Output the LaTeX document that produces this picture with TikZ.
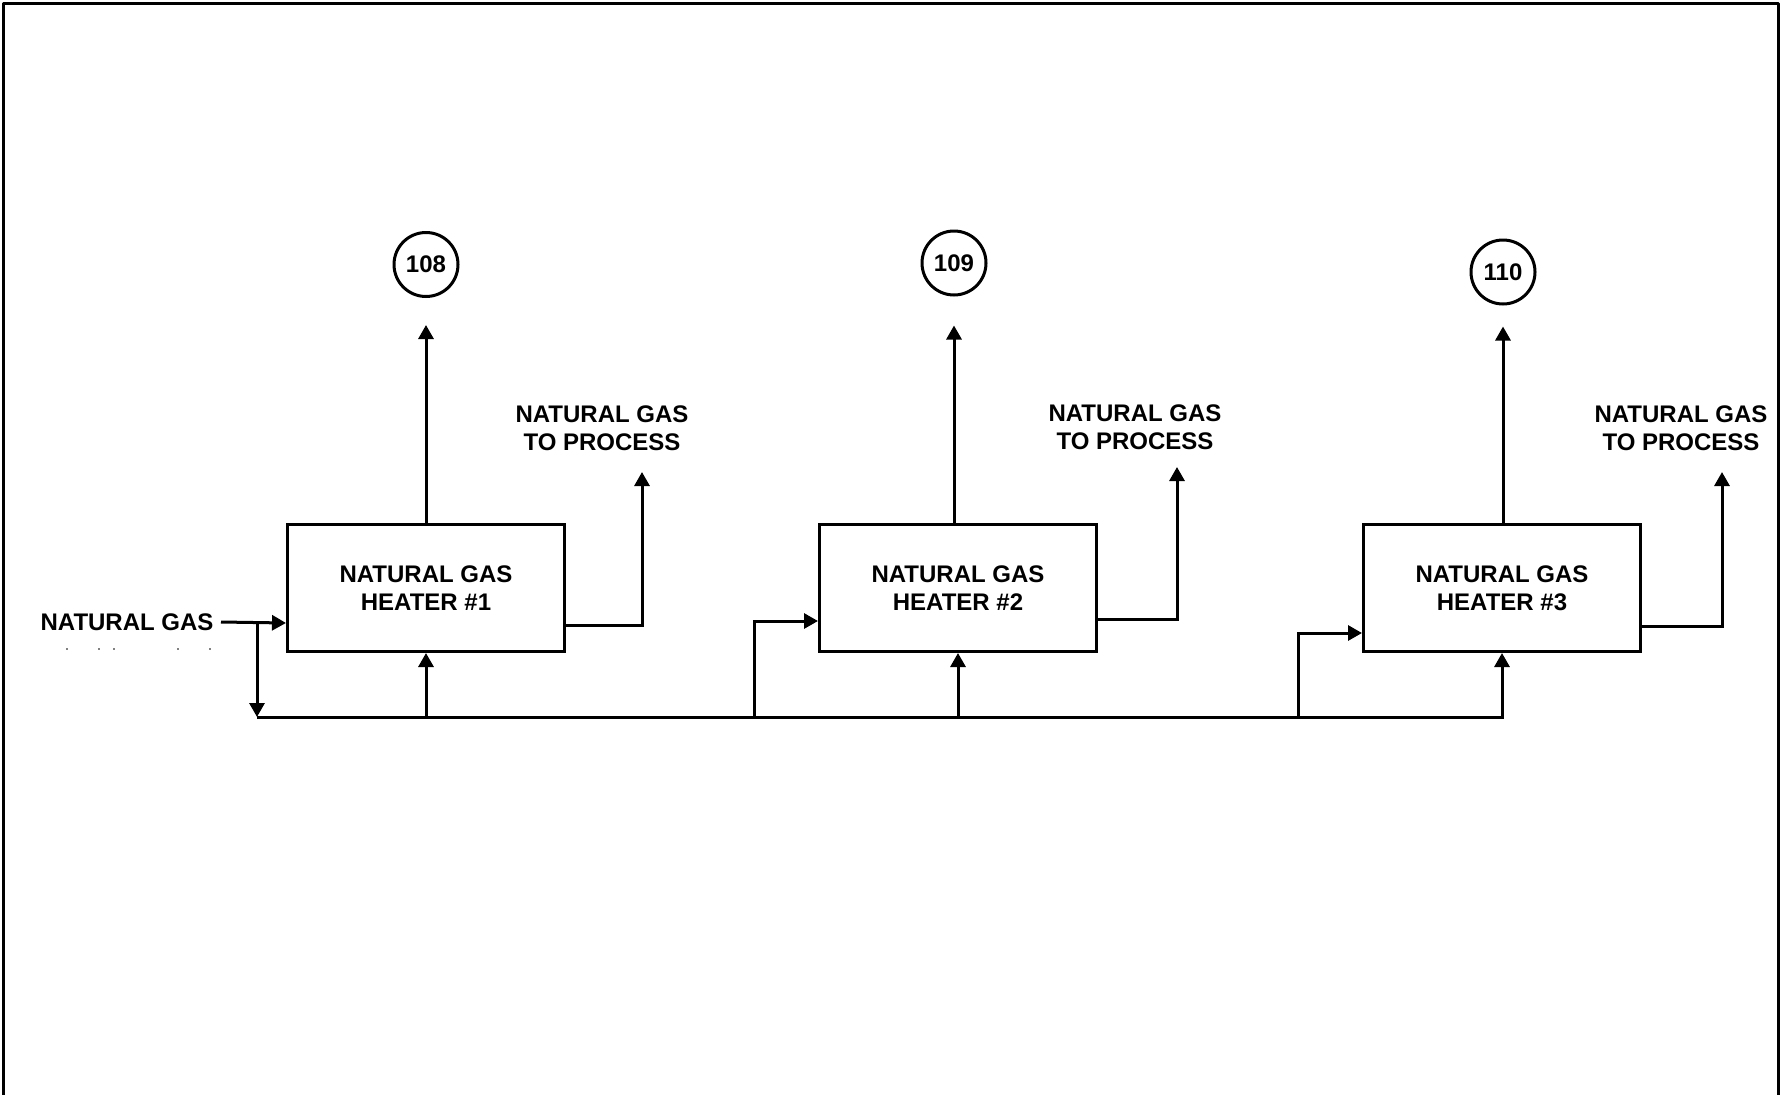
\documentclass[tikz,border=0pt]{standalone}
\usepackage{fontspec}
\setmainfont{Liberation Sans}
\usetikzlibrary{positioning,arrows.meta}

\begin{document}
\begin{tikzpicture}[
  x=1pt, y=-1pt,
  font=\fontsize{24pt}{28pt}\selectfont\bfseries,
  line width=3pt,
  heater/.style={draw, align=center, inner sep=0pt, minimum width=277pt, minimum height=127pt},
  tag/.style={draw, circle, inner sep=0pt, minimum size=64pt},
  lbl/.style={align=center, inner sep=0pt},
  arr/.style={-{Triangle[length=14pt, width=15pt]}}
]
\useasboundingbox (0,0) rectangle (1781,1095);
% sheet border, open at the bottom
\draw[line join=round] (3,1095) -- (3,3) -- (1778,3) -- (1778,1095);
% the three heaters
\node[heater] (h1) at (426,588) {NATURAL GAS\\HEATER \#1};
\node[heater, right=252pt of h1] (h2) {NATURAL GAS\\HEATER \#2};
\node[heater, right=264pt of h2] (h3) {NATURAL GAS\\HEATER \#3};
% stream tags
\node[tag, above=225pt of h1] (c108) {108};
\node[tag] (c109) at (954,263) {109};
\node[tag] (c110) at (1503,272) {110};
% outlet labels
\node[lbl] (p1) at (602,428) {NATURAL GAS\\TO PROCESS};
\node[lbl] (p2) at (1135,427) {NATURAL GAS\\TO PROCESS};
\node[lbl] (p3) at (1681,428) {NATURAL GAS\\TO PROCESS};
\node[lbl, anchor=east] (ng) at (215,622) {NATURAL GAS};
\foreach \x in {67,99,114,178,210}{\fill (\x,649) circle (0.9pt);}
% free ends of the lines
\coordinate (o1) at (642,472);
\coordinate (o2) at (1177,467);
\coordinate (o3) at (1722,472);
\coordinate (split) at (257,623);
\coordinate (hdr) at (257,717);
\coordinate (b2) at (754,717);
\coordinate (b3) at (1298,717);
% heater tops to the tags
\draw[arr] (h1.north) -- ([yshift=-27pt]c108.south);
\draw[arr] (h2.north -| c109) -- ([yshift=-29pt]c109.south);
\draw[arr] (h3.north -| c110) -- ([yshift=-21pt]c110.south);
% gas to process
\draw[arr] ([yshift=-37pt]h1.east) -| (o1);
\draw[arr] ([yshift=-31pt]h2.east) -| (o2);
\draw[arr] ([yshift=-38pt]h3.east) -| (o3);
% inlet and header
\draw[arr] (ng.east) ++(6pt,0) -- ([yshift=-35pt]h1.west);
\draw[arr] (split) -- (hdr);
\draw[arr] (hdr) -| (h3.south);
\draw[arr] (h1.south |- hdr) -- (h1.south);
\draw[arr] (h2.south |- hdr) -- (h2.south);
\draw[arr] (b2) |- ([yshift=-33pt]h2.west);
\draw[arr] (b3) |- ([yshift=-45pt]h3.west);
\end{tikzpicture}
\end{document}
